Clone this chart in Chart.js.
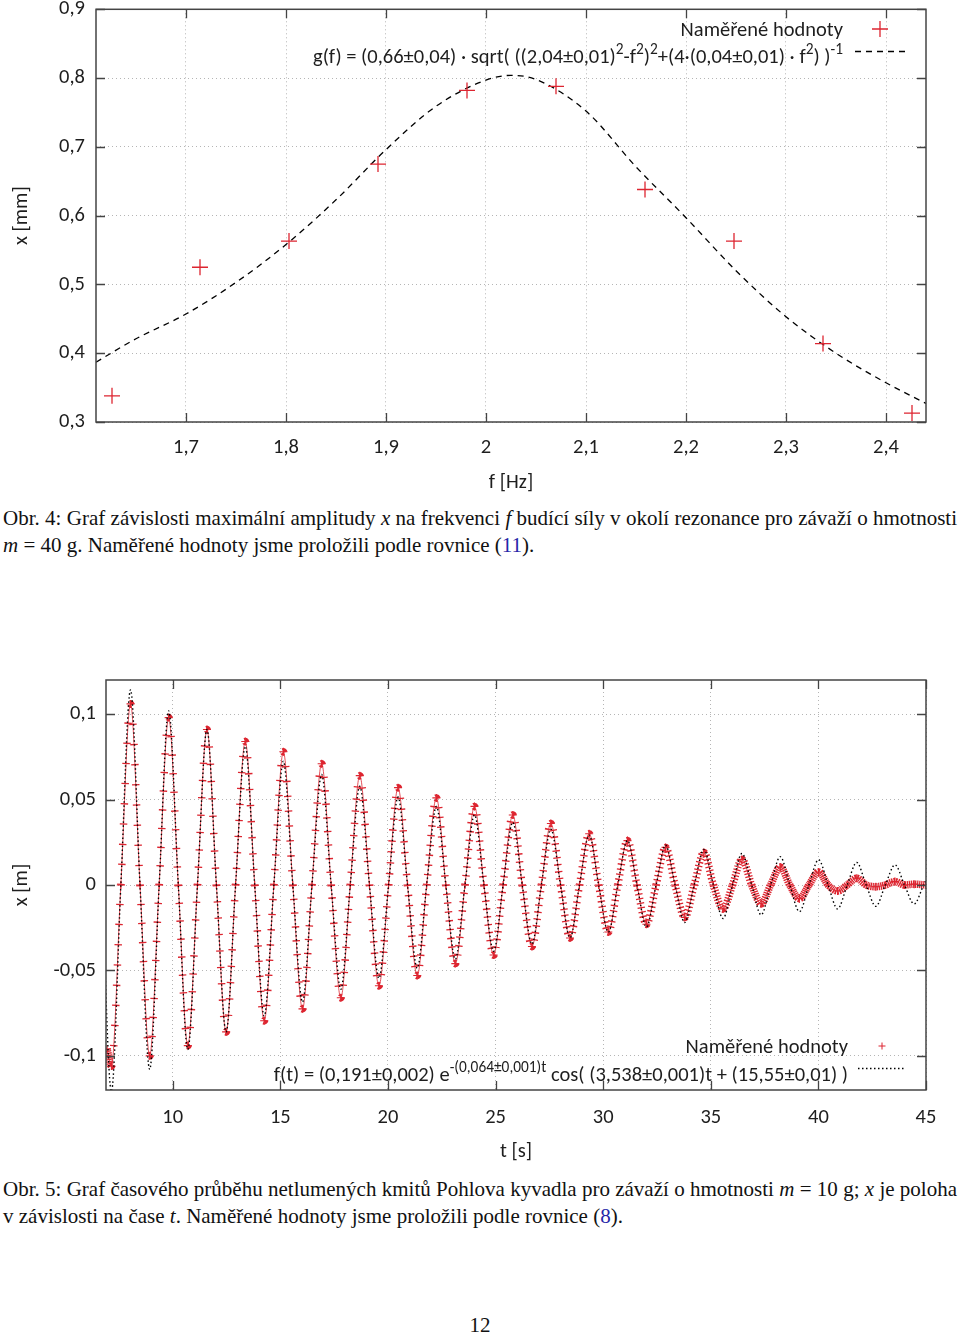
<!DOCTYPE html>
<html>
<head>
<meta charset="utf-8">
<script src="https://cdn.jsdelivr.net/npm/chart.js@4.4.0/dist/chart.umd.min.js"></script>
<style>
  body { margin: 0; background: #fff; width: 960px; height: 1335px; position: relative; overflow: hidden; }
  .graf { position: absolute; left: 0; }
  .popis { position: absolute; left: 3px; width: 954px; font-family: 'Liberation Serif', 'Times New Roman', serif; font-size: 21px; line-height: 27px; color: #111; }
  .popis div { white-space: nowrap; }
  .popis i { font-style: italic; }
  .ref { color: #2626a8; }
  .strana { position: absolute; left: 0; width: 960px; top: 1313px; text-align: center; font-family: 'Liberation Serif', serif; font-size: 21px; color: #111; }
</style>
</head>
<body>

<canvas id="rezonance" class="graf" width="960" height="500" style="top:0px"></canvas>
<div class="popis" style="top:505px">
  <div class="r1">Obr. 4: Graf závislosti maximální amplitudy <i>x</i> na frekvenci <i>f</i> budící síly v okolí rezonance pro závaží o hmotnosti</div>
  <div><i>m</i> = 40 g. Naměřené hodnoty jsme proložili podle rovnice (<span class="ref">11</span>).</div>
</div>

<canvas id="kmity" class="graf" width="960" height="510" style="top:660px"></canvas>
<div class="popis" style="top:1176px">
  <div class="r1">Obr. 5: Graf časového průběhu netlumených kmitů Pohlova kyvadla pro závaží o hmotnosti <i>m</i> = 10 g; <i>x</i> je poloha</div>
  <div>v závislosti na čase <i>t</i>. Naměřené hodnoty jsme proložili podle rovnice (<span class="ref">8</span>).</div>
</div>

<div class="strana">12</div>

<script>
// Obr. 4 - rezonance, namerene body
const frekvence = [1.626, 1.714, 1.803, 1.892, 1.981, 2.070, 2.159, 2.248, 2.337, 2.426];
const amplituda = [0.338, 0.525, 0.563, 0.675, 0.782, 0.788, 0.638, 0.563, 0.414, 0.313];
// prolozena krivka
const fitFrekvence = [1.61, 1.65, 1.70, 1.75, 1.80, 1.85, 1.90, 1.95, 2.00, 2.025, 2.05, 2.10, 2.15, 2.20, 2.25, 2.30, 2.35, 2.40, 2.44];
const fitAmplituda = [0.387, 0.421, 0.457, 0.503, 0.558, 0.623, 0.696, 0.759, 0.797, 0.804, 0.798, 0.752, 0.671, 0.597, 0.520, 0.453, 0.400, 0.357, 0.327];
const ticksF = [1.7, 1.8, 1.9, 2.0, 2.1, 2.2, 2.3, 2.4];
const ticksA = [0.3, 0.4, 0.5, 0.6, 0.7, 0.8, 0.9];

// Obr. 5 - kmity, extremy a pruchody nulou
const casMer = [6.95, 7.15, 7.59, 8.04, 8.48, 8.93, 9.37, 9.81, 10.26, 10.70, 11.15, 11.59, 12.03, 12.48, 12.92, 13.37, 13.81, 14.25, 14.70, 15.14,
  15.58, 16.03, 16.47, 16.92, 17.36, 17.81, 18.25, 18.69, 19.14, 19.58, 20.03, 20.47, 20.91, 21.36, 21.80, 22.25, 22.69, 23.13, 23.58, 24.02,
  24.46, 24.91, 25.35, 25.80, 26.24, 26.69, 27.13, 27.57, 28.02, 28.46, 28.90, 29.35, 29.79, 30.24, 30.68, 31.13, 31.57, 32.01, 32.46, 32.90,
  33.34, 33.79, 34.23, 34.68, 35.12, 35.57, 36.01, 36.45, 36.90, 37.34, 37.78, 38.23, 38.67, 39.12, 39.56, 40.01, 40.45, 40.89, 41.34, 41.78,
  42.22, 42.67, 43.11, 43.56, 44.00, 44.45, 45.00];
const polohaMer = [-0.096, -0.106, 0, 0.106, 0, -0.100, 0, 0.098, 0, -0.094, 0, 0.091, 0, -0.086, 0, 0.084, 0, -0.0795, 0, 0.078,
  0, -0.0725, 0, 0.071, 0, -0.066, 0, 0.064, 0, -0.059, 0, 0.057, 0, -0.053, 0, 0.051, 0, -0.046, 0, 0.046,
  0, -0.041, 0, 0.041, 0, -0.036, 0, 0.036, 0, -0.031, 0, 0.030, 0, -0.0275, 0, 0.026, 0, -0.023, 0, 0.022,
  0, -0.019, 0, 0.019, 0, -0.014, 0, 0.015, 0, -0.011, 0, 0.0105, 0, -0.008, 0, 0.0076, 0, -0.0035, 0, 0.004,
  0, -0.001, 0, 0.002, 0, 0.0005, 0];
const casFit = [6.71, 7.15, 7.59, 8.04, 8.48, 8.93, 9.37, 9.81, 10.26, 10.70, 11.15, 11.59, 12.03, 12.48, 12.92, 13.37, 13.81, 14.25, 14.70, 15.14,
  15.58, 16.03, 16.47, 16.92, 17.36, 17.81, 18.25, 18.69, 19.14, 19.58, 20.03, 20.47, 20.91, 21.36, 21.80, 22.25, 22.69, 23.13, 23.58, 24.02,
  24.46, 24.91, 25.35, 25.80, 26.24, 26.69, 27.13, 27.57, 28.02, 28.46, 28.90, 29.35, 29.79, 30.24, 30.68, 31.13, 31.57, 32.01, 32.46, 32.90,
  33.34, 33.79, 34.23, 34.68, 35.12, 35.57, 36.01, 36.45, 36.90, 37.34, 37.78, 38.23, 38.67, 39.12, 39.56, 40.01, 40.45, 40.89, 41.34, 41.78,
  42.22, 42.67, 43.11, 43.56, 44.00, 44.45, 44.89, 45.33];
const polohaFit = [0, -0.1209, 0, 0.1142, 0, -0.1079, 0, 0.1019, 0, -0.0963, 0, 0.0910, 0, -0.0860, 0, 0.0812, 0, -0.0767, 0, 0.0725,
  0, -0.0685, 0, 0.0647, 0, -0.0611, 0, 0.0578, 0, -0.0546, 0, 0.0515, 0, -0.0487, 0, 0.0460, 0, -0.0435, 0, 0.0411,
  0, -0.0388, 0, 0.0367, 0, -0.0346, 0, 0.0327, 0, -0.0309, 0, 0.0292, 0, -0.0276, 0, 0.0261, 0, -0.0246, 0, 0.0233,
  0, -0.0220, 0, 0.0208, 0, -0.0196, 0, 0.0185, 0, -0.0175, 0, 0.0166, 0, -0.0156, 0, 0.0148, 0, -0.0140, 0, 0.0132,
  0, -0.0125, 0, 0.0118, 0, -0.0111, 0, 0.0105];
const ticksT = [10, 15, 20, 25, 30, 35, 40, 45];
const ticksX = [-0.1, -0.05, 0, 0.05, 0.1];

const PISMO = 'Carlito, Lato, sans-serif';
const VEL = 20.5;
const CERVENA = '#dd2530';
Chart.defaults.font.family = PISMO;
Chart.defaults.font.size = VEL;
Chart.defaults.color = '#1e1e1e';

function carka(v, des) {
    return String(+v.toFixed(des)).replace('.', ',');
}

function body(xs, ys) {
    return xs.map((x, i) => ({ x: x, y: ys[i] }));
}

function osa(min, max, hodnoty, des, nazev, titulPad, tickPad, velikost, vodorovna) {
    return {
        type: 'linear',
        min: min,
        max: max,
        afterBuildTicks: s => { s.ticks = hodnoty.map(v => ({ value: v })); },
        afterFit: s => {
            if (vodorovna) s.height = velikost; else s.width = velikost;
            // bez automatickeho odsazeni kvuli popiskum na krajich
            s.paddingTop = 0; s.paddingBottom = 0; s.paddingLeft = 0; s.paddingRight = 0;
        },
        ticks: { padding: tickPad, autoSkip: false, maxRotation: 0, callback: v => carka(v, des) },
        grid: { color: '#b5b5b5', lineWidth: 1, drawTicks: false },
        border: { display: false, dash: [1, 3] },
        title: { display: true, text: nazev, padding: titulPad }
    };
}

// ramecek s carkami dovnitr, jako v gnuplotu
const ramecek = {
    id: 'ramecek',
    afterDraw(chart) {
        const { ctx, chartArea: a, scales } = chart;
        const d = 9;
        ctx.save();
        ctx.strokeStyle = '#444';
        ctx.lineWidth = 1.3;
        ctx.beginPath();
        scales.x.ticks.forEach(t => {
            const px = Math.round(scales.x.getPixelForValue(t.value)) + 0.5;
            ctx.moveTo(px, a.bottom); ctx.lineTo(px, a.bottom - d);
            ctx.moveTo(px, a.top); ctx.lineTo(px, a.top + d);
        });
        scales.y.ticks.forEach(t => {
            const py = Math.round(scales.y.getPixelForValue(t.value)) + 0.5;
            ctx.moveTo(a.left, py); ctx.lineTo(a.left + d, py);
            ctx.moveTo(a.right, py); ctx.lineTo(a.right - d, py);
        });
        ctx.stroke();
        ctx.lineWidth = 1.5;
        ctx.strokeRect(a.left, a.top, a.right - a.left, a.bottom - a.top);
        ctx.restore();
    }
};

function bohatyText(ctx, casti, pravy, zaklad, vel) {
    const sirky = casti.map(([t, h]) => {
        ctx.font = (h ? vel * 0.75 : vel) + 'px ' + PISMO;
        return ctx.measureText(t).width;
    });
    let x = pravy - sirky.reduce((a, b) => a + b, 0);
    casti.forEach(([t, h], i) => {
        ctx.font = (h ? vel * 0.75 : vel) + 'px ' + PISMO;
        ctx.fillText(t, x, h ? zaklad - vel * 0.42 : zaklad);
        x += sirky[i];
    });
}

function krizek(ctx, x, y, r, w) {
    ctx.save();
    ctx.strokeStyle = CERVENA;
    ctx.lineWidth = w;
    ctx.beginPath();
    ctx.moveTo(x - r, y); ctx.lineTo(x + r, y);
    ctx.moveTo(x, y - r); ctx.lineTo(x, y + r);
    ctx.stroke();
    ctx.restore();
}

const legenda1 = {
    id: 'legenda1',
    afterDraw(chart) {
        const ctx = chart.ctx;
        ctx.save();
        ctx.fillStyle = '#1e1e1e';
        ctx.textAlign = 'left';
        ctx.textBaseline = 'alphabetic';
        bohatyText(ctx, [['Naměřené hodnoty']], 843, 36, VEL);
        bohatyText(ctx, [['g(f) = (0,66±0,04) · sqrt( ((2,04±0,01)'], ['2', 1], ['-f'], ['2', 1], [')'], ['2', 1],
            ['+(4·(0,04±0,01) · f'], ['2', 1], [') )'], ['-1', 1]], 843, 63, VEL);
        krizek(ctx, 880, 29, 8, 1.3);
        ctx.strokeStyle = '#000';
        ctx.lineWidth = 1.3;
        ctx.setLineDash([6, 5]);
        ctx.beginPath();
        ctx.moveTo(855, 51.5); ctx.lineTo(905, 51.5);
        ctx.stroke();
        ctx.restore();
    }
};

const legenda2 = {
    id: 'legenda2',
    afterDraw(chart) {
        const ctx = chart.ctx;
        ctx.save();
        ctx.fillStyle = '#1e1e1e';
        ctx.textAlign = 'left';
        ctx.textBaseline = 'alphabetic';
        bohatyText(ctx, [['Naměřené hodnoty']], 848, 393, VEL);
        bohatyText(ctx, [['f(t) = (0,191±0,002) e'], ['-(0,064±0,001)t', 1], [' cos( (3,538±0,001)t + (15,55±0,01) )']], 848, 421, VEL);
        krizek(ctx, 882, 386, 3.5, 1);
        ctx.strokeStyle = '#000';
        ctx.lineWidth = 1.4;
        ctx.setLineDash([1.5, 2.5]);
        ctx.beginPath();
        ctx.moveTo(858, 408.5); ctx.lineTo(905, 408.5);
        ctx.stroke();
        ctx.restore();
    }
};

new Chart(document.getElementById('rezonance'), {
    type: 'scatter',
    data: {
        datasets: [
            {
                label: 'g(f)',
                data: body(fitFrekvence, fitAmplituda),
                showLine: true,
                borderColor: '#000',
                borderWidth: 1.3,
                borderDash: [6, 5],
                pointRadius: 0,
                cubicInterpolationMode: 'monotone',
                order: 1
            },
            {
                label: 'Naměřené hodnoty',
                data: body(frekvence, amplituda),
                showLine: false,
                pointStyle: 'cross',
                pointRadius: 8,
                pointBorderWidth: 1.3,
                borderColor: CERVENA,
                order: 0
            }
        ]
    },
    options: {
        responsive: false,
        animation: false,
        layout: { padding: { top: 7, right: 34, left: 0, bottom: 0 } },
        plugins: { legend: { display: false }, tooltip: { enabled: false } },
        scales: {
            x: osa(1.61, 2.44, ticksF, 1, 'f [Hz]', { top: 0, bottom: 4.7 }, 14, 78, true),
            y: osa(0.3, 0.9, ticksA, 1, 'x [mm]', { top: 9.7, bottom: 0 }, 11, 96, false)
        }
    },
    plugins: [ramecek, legenda1]
});

new Chart(document.getElementById('kmity'), {
    type: 'scatter',
    data: {
        datasets: [
            {
                label: 'f(t)',
                data: body(casFit, polohaFit),
                showLine: true,
                borderColor: '#000',
                borderWidth: 1.4,
                borderDash: [1.5, 2.5],
                pointRadius: 0,
                cubicInterpolationMode: 'monotone',
                order: 0
            },
            {
                label: 'Naměřené hodnoty',
                data: body(casMer, polohaMer),
                showLine: true,
                borderColor: CERVENA,
                borderWidth: 0.8,
                pointStyle: 'cross',
                pointRadius: 4,
                pointBorderWidth: 1.1,
                cubicInterpolationMode: 'monotone',
                order: 1
            },
            {
                // husta rada krizku - prerusovana tlusta cara
                label: 'hustota',
                data: body(casMer, polohaMer),
                showLine: true,
                borderColor: CERVENA,
                borderWidth: 7.5,
                pointRadius: 0,
                cubicInterpolationMode: 'monotone',
                segment: {
                    borderDash: ctx => {
                        const dl = Math.hypot(ctx.p1.x - ctx.p0.x, ctx.p1.y - ctx.p0.y);
                        return [1.3, Math.max(dl / 9 - 1.3, 0.7)];
                    }
                },
                order: 2
            }
        ]
    },
    options: {
        responsive: false,
        animation: false,
        layout: { padding: { top: 20, right: 34, left: 0, bottom: 0 } },
        plugins: { legend: { display: false }, tooltip: { enabled: false } },
        scales: {
            x: osa(6.9, 45, ticksT, 0, 't [s]', { top: 0, bottom: 5.7 }, 16, 80, true),
            y: osa(-0.12, 0.12, ticksX, 2, 'x [m]', { top: 9.7, bottom: 0 }, 10, 106, false)
        }
    },
    plugins: [ramecek, legenda2]
});

// zarovnani prvniho radku popisku do bloku
document.querySelectorAll('.r1').forEach(el => {
    el.style.display = 'inline-block';
    const w = el.getBoundingClientRect().width;
    const mezery = (el.textContent.trim().match(/ +/g) || []).length;
    el.style.display = 'block';
    el.style.wordSpacing = ((954 - w) / mezery) + 'px';
});
</script>
</body>
</html>
